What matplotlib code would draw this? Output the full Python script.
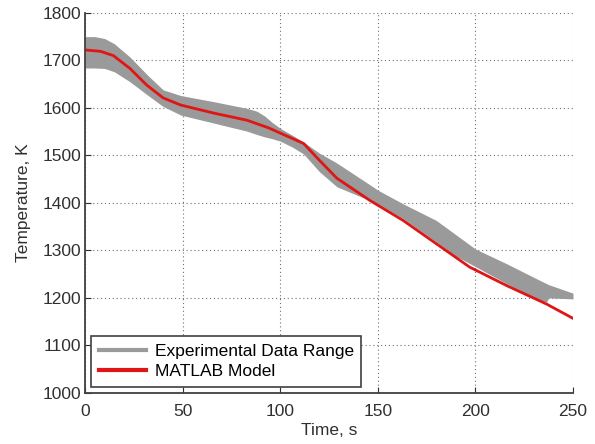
import matplotlib
matplotlib.use("Agg")
import matplotlib.pyplot as plt
from matplotlib.lines import Line2D

# experimental band (min / max envelope)
t_band = [0, 5, 10, 15, 23, 32, 40, 49, 66, 83, 88, 92, 96, 100, 106, 112,
          120, 129, 146, 150, 163, 180, 190, 200, 216, 233, 236.5, 237.5, 250]
band_upper = [1750, 1750, 1746, 1735, 1707, 1669, 1638, 1626, 1613, 1599, 1593,
              1583, 1569, 1557, 1543, 1528, 1505, 1484, 1438, 1427, 1398, 1363,
              1333, 1303, 1272, 1237, 1230, 1228, 1210]
band_lower = [1684, 1684, 1683, 1676, 1655, 1627, 1603, 1585, 1568, 1551, 1544,
              1539, 1535, 1530, 1518, 1503, 1466, 1434, 1405, 1398, 1367, 1318,
              1288, 1266, 1230, 1195, 1191, 1200, 1198]

# model curve
t_model = [0, 8, 14.5, 23, 31.6, 40, 49, 66, 83, 94, 100, 112, 120, 129, 146,
           163, 180, 197, 216, 236.5, 250]
temp_model = [1722, 1719, 1710, 1683, 1648, 1621, 1606, 1589, 1574, 1558, 1547,
              1525, 1490, 1452, 1405, 1363, 1314, 1265, 1226, 1187, 1157]

x_ticks = [0, 50, 100, 150, 200, 250]
y_ticks = [1000, 1100, 1200, 1300, 1400, 1500, 1600, 1700, 1800]

GRAY = "#9a9a9a"
RED = "#e01515"

plt.rcParams["font.family"] = ["Liberation Sans", "DejaVu Sans"]

fig = plt.figure(figsize=(5.95, 4.44), dpi=100)
ax = fig.add_axes([0.143, 0.115, 0.820, 0.856])

ax.fill_between(t_band, band_lower, band_upper, color=GRAY, lw=0)
ax.plot(t_model, temp_model, color=RED, lw=2)

ax.set_xlim(0, 250)
ax.set_ylim(1000, 1800)
ax.set_xticks(x_ticks)
ax.set_yticks(y_ticks)
ax.grid(True, color="#707070", lw=0.8, ls=(0, (1, 2.5)))
ax.set_axisbelow(True)
for s in ("top", "right"):
    ax.spines[s].set_visible(False)
for s in ("left", "bottom"):
    ax.spines[s].set_color("#404040")
    ax.spines[s].set_linewidth(1.3)
ax.tick_params(direction="in", length=4, labelsize=12.5, colors="#303030")
ax.tick_params(axis="x", pad=8)
ax.tick_params(axis="y", pad=3)
ax.set_xlabel("Time, s", fontsize=12.5, color="#303030", labelpad=3)
ax.set_ylabel("Temperature, K", fontsize=12.5, color="#303030", labelpad=8)

handles = [Line2D([], [], color=GRAY, lw=3),
           Line2D([], [], color=RED, lw=3)]
leg = ax.legend(handles, ["Experimental Data Range", "MATLAB Model"],
                loc="lower left", fontsize=12.5, fancybox=False,
                framealpha=1, edgecolor="#404040", handlelength=2.7,
                borderaxespad=0.35, borderpad=0.45, labelspacing=0.3,
                handletextpad=0.5)
leg.get_frame().set_linewidth(1.2)

fig.savefig("out.png", dpi=100)
